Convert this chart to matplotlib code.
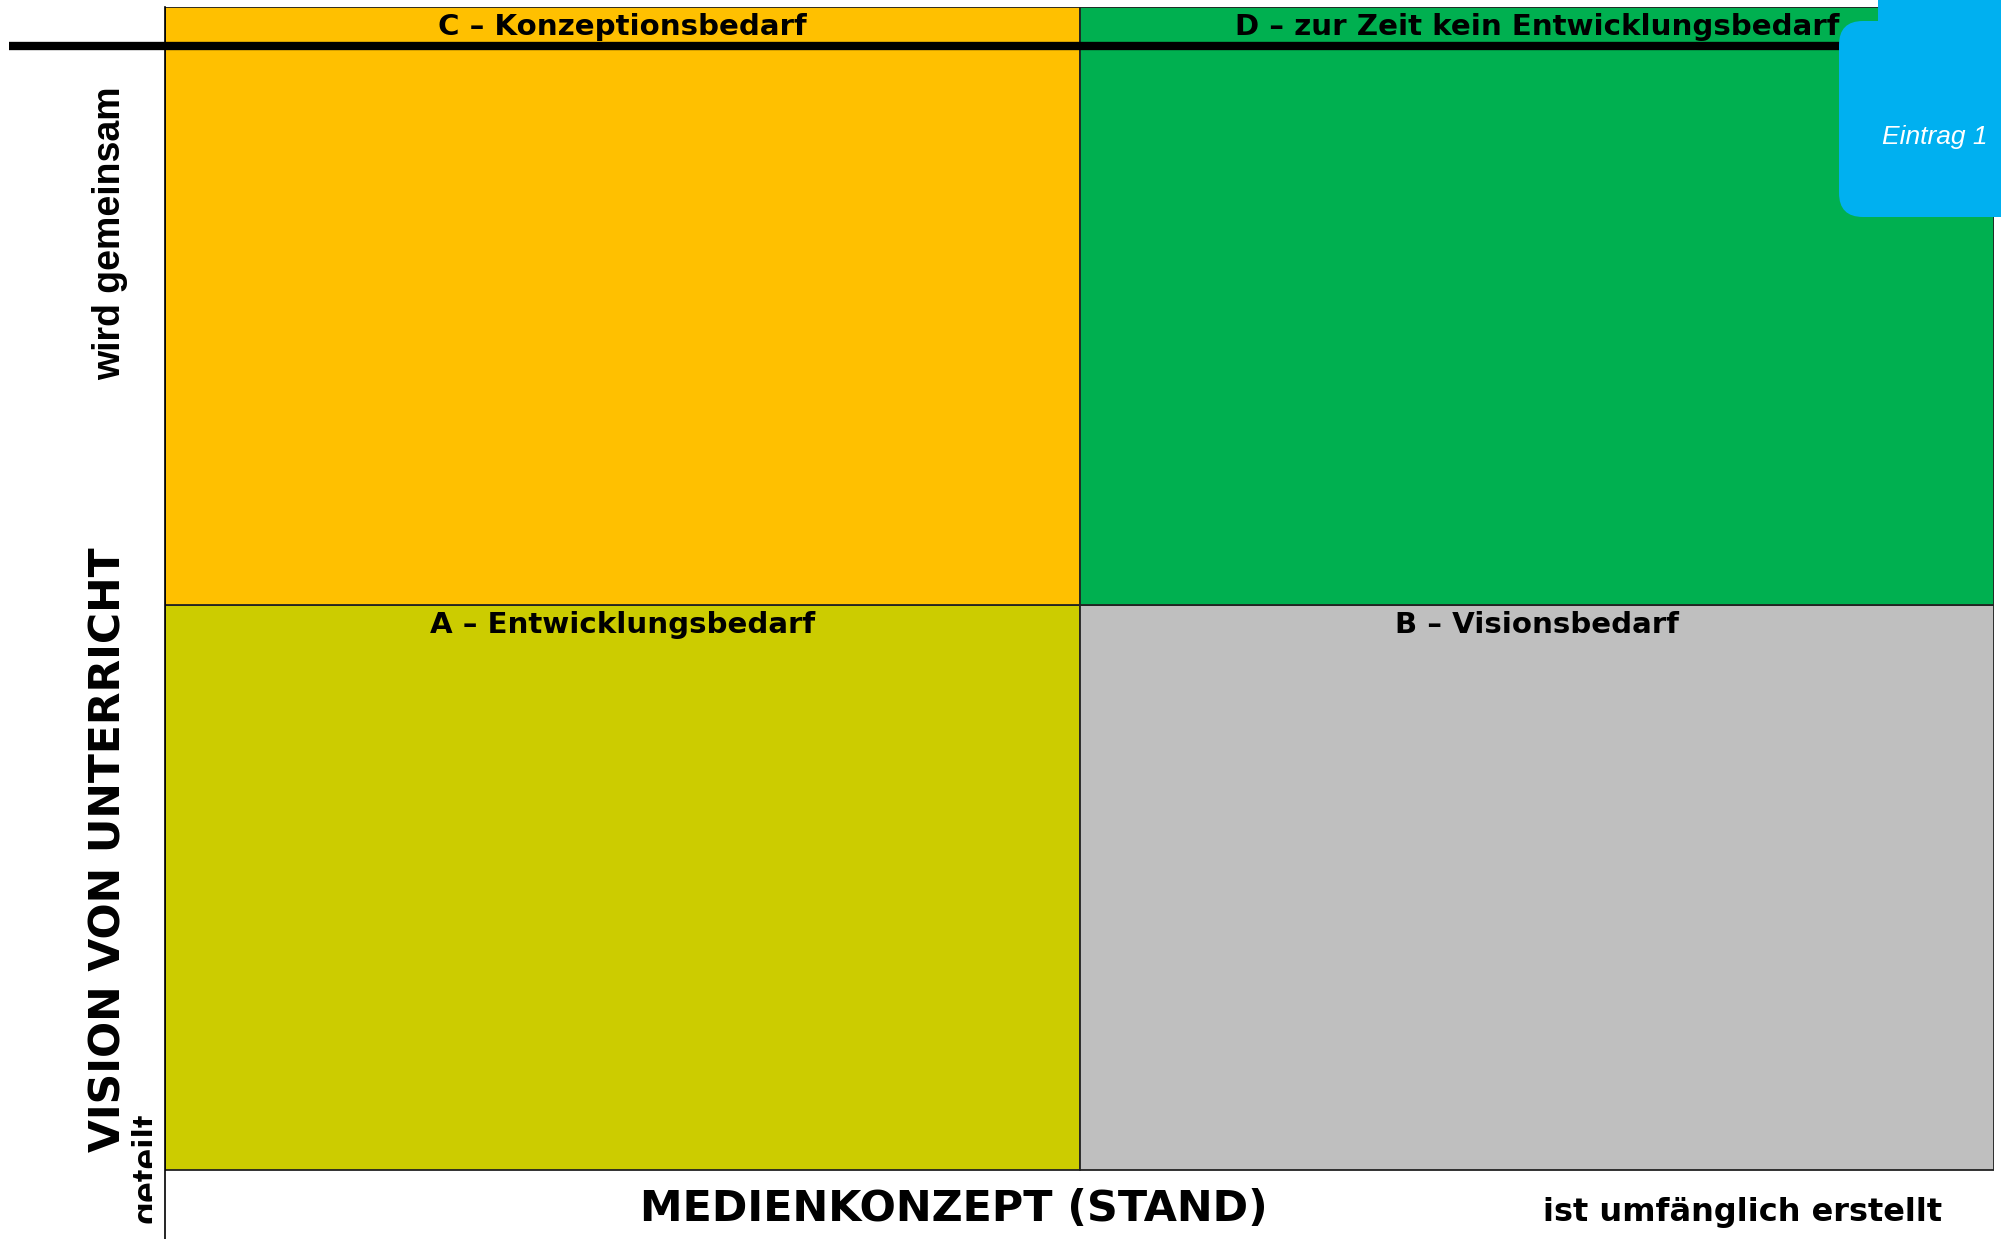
import matplotlib
matplotlib.use("Agg")
import matplotlib.pyplot as plt
from matplotlib.patches import Rectangle, FancyBboxPatch
from matplotlib import font_manager as fm

# ---- data ----
x_edges = [0.0, 1.0, 2.0]          # Medienkonzept (Stand)
y_edges = [0.0, 1.0, 2.058]        # Vision von Unterricht
quad_labels = [["A – Entwicklungsbedarf", "B – Visionsbedarf"],
               ["C – Konzeptionsbedarf", "D – zur Zeit kein Entwicklungsbedarf"]]
quad_colors = [["#CCCC00", "#BFBFBF"],
               ["#FFC000", "#00B050"]]
x_title = "MEDIENKONZEPT (STAND)"
x_high_label = "ist umfänglich erstellt"
y_title = "VISION VON UNTERRICHT"
y_high_label = "wird gemeinsam"
y_low_label = "geteilt"
entry_label = "Eintrag 1"
ref_line_y = 1.989

W, H = 2001, 1239
fig = plt.figure(figsize=(W / 100, H / 100), dpi=100)
fig.patch.set_facecolor("white")


def find_font(name, bold=False, italic=False, size=12):
    for f in fm.fontManager.ttflist:
        if f.name == name and (f.weight in (700, "bold")) == bold and \
                (f.style == "italic") == italic:
            return fm.FontProperties(fname=f.fname, size=size)
    return fm.FontProperties(family=name, weight="bold" if bold else "normal",
                             style="italic" if italic else "normal", size=size)


lib_bold = find_font("Liberation Sans", bold=True, size=27)
lib_italic = find_font("Liberation Sans", italic=True, size=19)


def fx(px):
    return px / W


def fy(py):
    return 1 - py / H


ax = fig.add_axes([fx(165), 0, (1994 - 165) / W, (H - 7) / H])
ax.set_xlim(x_edges[0], x_edges[-1])
ax.set_ylim(-69 / 565, y_edges[-1])
for s in ["top", "right", "bottom"]:
    ax.spines[s].set_visible(False)
ax.spines["left"].set_color("black")
ax.spines["left"].set_linewidth(1.2)
ax.set_xticks([])
ax.set_yticks([])
ax.set_facecolor("none")

for i in range(2):
    for j in range(2):
        x0, x1 = x_edges[j], x_edges[j + 1]
        y0, y1 = y_edges[i], y_edges[i + 1]
        ax.add_patch(Rectangle((x0, y0), x1 - x0, y1 - y0,
                               facecolor=quad_colors[i][j], edgecolor="#222222",
                               linewidth=1.3, zorder=1))
        ax.annotate(quad_labels[i][j], xy=((x0 + x1) / 2, y1), xytext=(0, -4.5),
                    textcoords="offset points", ha="center", va="top",
                    fontsize=21.1, fontweight="bold", family="DejaVu Sans",
                    color="black", zorder=3)

# thick reference line near top
ax.plot([-156 / 914.5, 1.85], [ref_line_y, ref_line_y], color="black",
        linewidth=6.0, solid_capstyle="butt", clip_on=False, zorder=4)

# axis titles
fig.text(fx(954), fy(1209), x_title, ha="center", va="center",
         fontsize=30.9, fontweight="bold", family="DejaVu Sans")
fig.text(fx(1743), fy(1212), x_high_label, ha="center", va="center",
         fontsize=23, fontweight="bold", family="DejaVu Sans")
fig.text(fx(109), fy(850), y_title, ha="center", va="center", rotation=90,
         fontsize=30.6, fontweight="bold", family="DejaVu Sans")
fig.text(fx(110), fy(233), y_high_label, ha="center", va="center", rotation=90,
         fontproperties=lib_bold)
t = fig.text(fx(148), fy(1168), y_low_label, ha="center", va="center", rotation=90,
             fontproperties=lib_bold)
clip = Rectangle((0, 0), 152 / 100, H / 100, transform=fig.dpi_scale_trans,
                 facecolor="none", edgecolor="none")
fig.add_artist(clip)
t.set_clip_path(clip)

# blue entry tab
blue = "#00B0F0"
fig.add_artist(FancyBboxPatch((1839 / 100, (H - 217) / 100), 2.2, (217 - 21) / 100,
                              boxstyle="round,pad=0,rounding_size=0.24",
                              transform=fig.dpi_scale_trans, facecolor=blue,
                              edgecolor="none", zorder=10))
fig.add_artist(Rectangle((1878 / 100, (H - 40) / 100), 1.5, 0.5,
                         transform=fig.dpi_scale_trans, facecolor=blue,
                         edgecolor="none", zorder=10))
fig.text(fx(1935), fy(137), entry_label, ha="center", va="center",
         fontproperties=lib_italic, color="white", zorder=11)

fig.savefig("out.png", dpi=100)
